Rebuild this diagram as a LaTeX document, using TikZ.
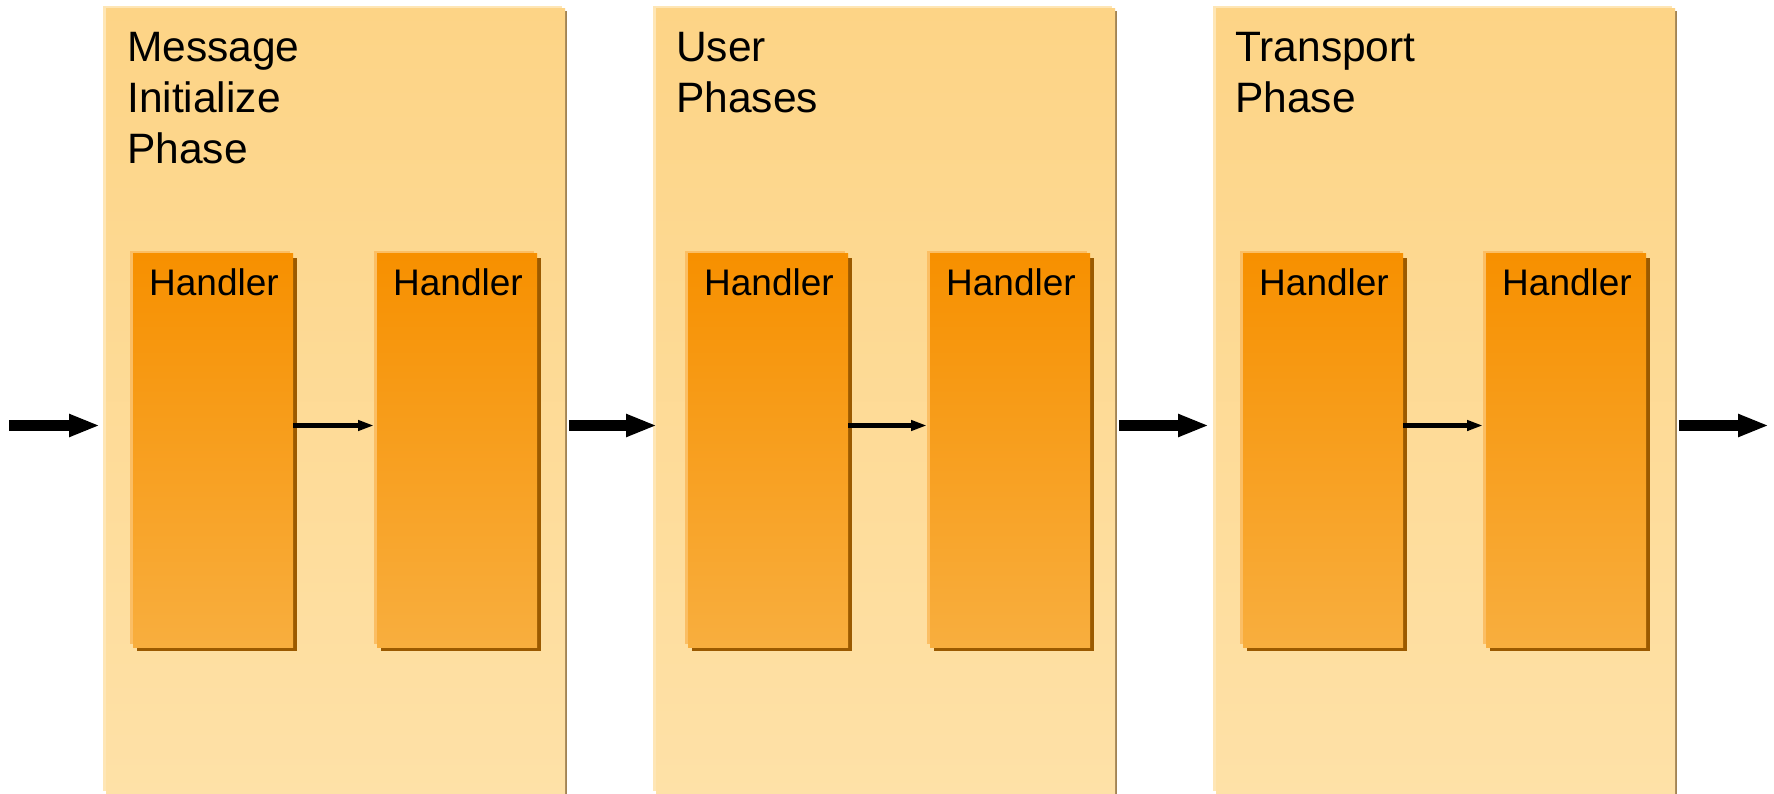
\documentclass[tikz,border=0pt]{standalone}
\usepackage{fontspec}
\setmainfont{Liberation Sans}
\usetikzlibrary{arrows.meta}
\definecolor{phTop}{RGB}{253,212,134}
\definecolor{phBot}{RGB}{254,225,167}
\definecolor{phLight}{RGB}{254,230,182}
\definecolor{phShadow}{RGB}{162,132,84}
\definecolor{hTop}{RGB}{247,144,0}
\definecolor{hBot}{RGB}{248,174,62}
\definecolor{hLight}{RGB}{251,190,100}
\definecolor{hShadow}{RGB}{155,90,0}
\begin{document}
\begin{tikzpicture}[x=1pt,y=-1pt,
  phase/.style={shape=rectangle, inner sep=0pt, outer sep=0pt, anchor=north west,
    top color=phTop, bottom color=phBot, draw=none,
    preaction={fill=phShadow, transform canvas={shift={(2pt,-2pt)}}},
    preaction={fill=phLight, transform canvas={shift={(-3pt,3pt)}}},
    minimum width=459pt, minimum height=785pt},
  handler/.style={shape=rectangle, inner sep=0pt, outer sep=0pt, anchor=north west,
    top color=hTop, bottom color=hBot, draw=none,
    preaction={fill=hShadow, transform canvas={shift={(4pt,-4pt)}}},
    preaction={fill=hLight, transform canvas={shift={(-3pt,3pt)}}},
    minimum width=160pt, minimum height=393pt},
  title/.style={anchor=base west, align=left, inner sep=0pt,
    font=\fontsize{42.5}{51}\selectfont},
  htext/.style={anchor=base west, inner sep=0pt, font=\fontsize{37}{44}\selectfont},
  bigarrow/.style={line width=11pt, -{Triangle[length=31pt,width=21pt]}},
  smallarrow/.style={line width=5pt, -{Triangle[length=16pt,width=10pt]}}
]
\useasboundingbox (0,0) rectangle (1774,794);
\fill[white] (0,0) rectangle (1774,794);

% phase boxes
\node[phase] (p1) at (106,9) {};
\node[phase] (p2) at (656,9) {};
\node[phase] (p3) at (1216,9) {};

% titles (anchored at the baseline of their last line)
\node[title] (t1) at (127,164) {Message\\Initialize\\Phase};
\node[title] (t2) at (676,113) {User\\Phases};
\node[title] (t3) at (1235,113) {Transport\\Phase};

% handlers
\node[handler] (h1) at (133,254) {};
\node[handler] (h2) at (377,254) {};
\node[handler] (h3) at (688,254) {};
\node[handler] (h4) at (930,254) {};
\node[handler] (h5) at (1243,254) {};
\node[handler] (h6) at (1486,254) {};

\foreach \h in {h1,h2,h3,h4,h5,h6}{
  \node[htext] (\h t) at ([xshift=16pt,yshift=-41pt]\h.north west) {Handler};
}

% flow line
\coordinate (mid) at (0,425.5);
\coordinate (in) at (9,425.5);
\coordinate (out) at (1769,425.5);

% big arrows
\draw[bigarrow, shorten >=6pt] (in) -- (p1.west |- mid);
\draw[bigarrow, shorten <=4pt, shorten >=-1pt] (p1.east |- mid) -- (p2.west |- mid);
\draw[bigarrow, shorten <=4pt, shorten >=7pt] (p2.east |- mid) -- (p3.west |- mid);
\draw[bigarrow, shorten <=4pt] (p3.east |- mid) -- (out);

% small arrows
\draw[smallarrow, shorten >=3pt] (h1.east |- mid) -- (h2.west |- mid);
\draw[smallarrow, shorten >=3pt] (h3.east |- mid) -- (h4.west |- mid);
\draw[smallarrow, shorten >=3pt] (h5.east |- mid) -- (h6.west |- mid);
\end{tikzpicture}
\end{document}
